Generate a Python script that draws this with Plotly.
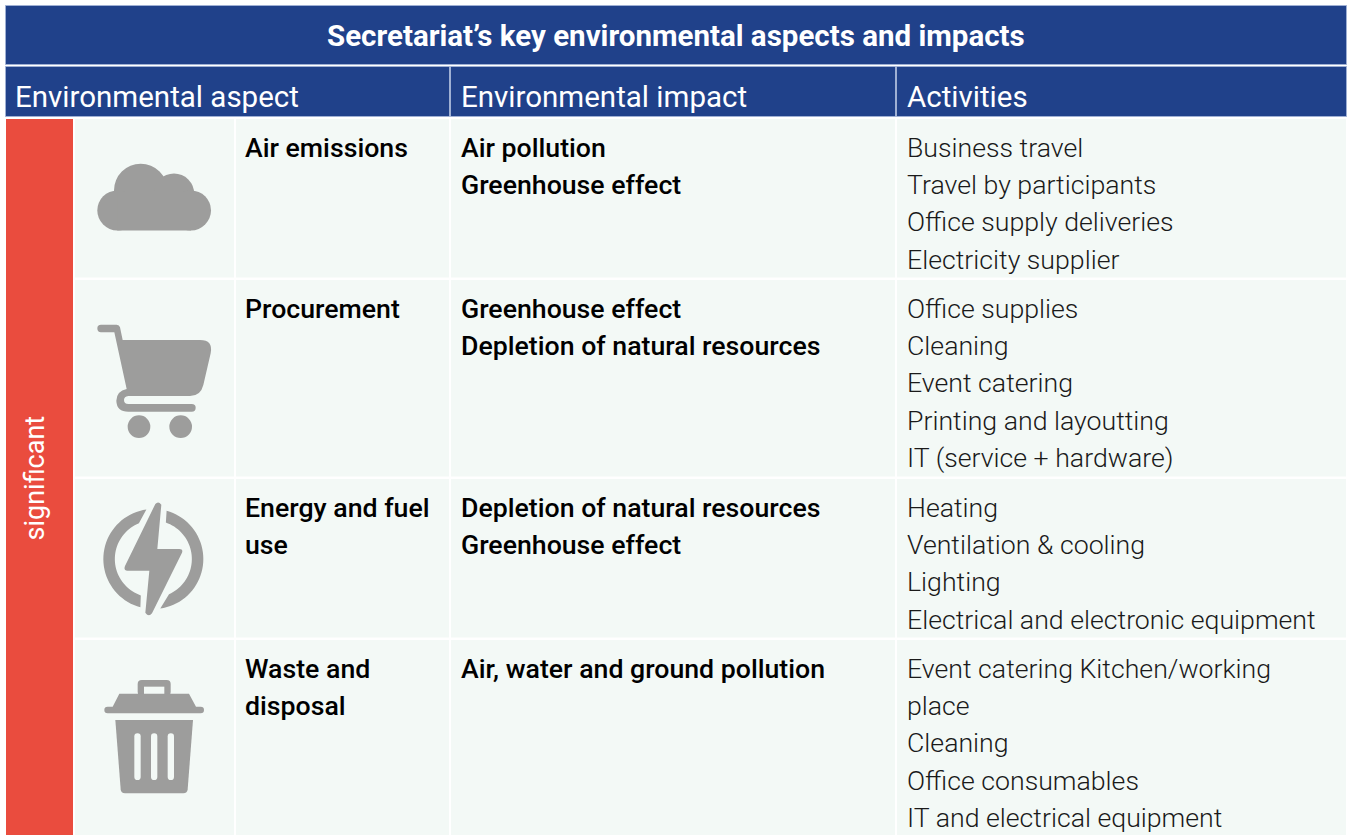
import math
import plotly.graph_objects as go

# ---------- content ----------
TITLE = "Secretariat’s key environmental aspects and impacts"
HEADERS = ["Environmental aspect", "Environmental impact", "Activities"]
SIDE_LABEL = "significant"
ASPECTS = [["Air emissions"], ["Procurement"], ["Energy and fuel", "use"], ["Waste and", "disposal"]]
IMPACTS = [
    ["Air pollution", "Greenhouse effect"],
    ["Greenhouse effect", "Depletion of natural resources"],
    ["Depletion of natural resources", "Greenhouse effect"],
    ["Air, water and ground pollution"],
]
ACTIVITIES = [
    ["Business travel", "Travel by participants", "Office supply deliveries", "Electricity supplier"],
    ["Office supplies", "Cleaning", "Event catering", "Printing and layoutting", "IT (service + hardware)"],
    ["Heating", "Ventilation & cooling", "Lighting", "Electrical and electronic equipment"],
    ["Event catering Kitchen/working", "place", "Cleaning", "Office consumables", "IT and electrical equipment"],
]

# ---------- layout ----------
W, H = 1348, 835
NAVY, RED, CELL, GREY, EDGE = "#20418A", "#EA4C3E", "#F3F9F6", "#9D9D9C", "#9FB0D4"
ROW_Y = [(119, 277.5), (280, 476.5), (479, 637.5), (640, 835)]
COL_X = [(75, 234), (236, 449), (451, 895), (897, 1346)]
TEXT_X = [242.5, 458.5, 904.5]
PITCH, FIRST = 37.25, 28.9
FONT = "Roboto"

shapes = []


def rect(x0, y0, x1, y1, fill, line=None):
    shapes.append(dict(type="rect", xref="x", yref="y", x0=x0, y0=y0, x1=x1, y1=y1, fillcolor=fill,
                       line=dict(color=line or fill, width=1 if line else 0), layer="below"))


def path(d, fill=GREY):
    shapes.append(dict(type="path", xref="x", yref="y", path=d, fillcolor=fill, line=dict(width=0), layer="below"))


def circle(cx, cy, r, fill=GREY):
    shapes.append(dict(type="circle", xref="x", yref="y", x0=cx - r, y0=cy - r, x1=cx + r, y1=cy + r,
                       fillcolor=fill, line=dict(width=0), layer="below"))


def zpath(cmds, ox, oy, fill=GREY):
    """Path given in 3x crop units, converted to page pixels."""
    out = []
    for c in cmds:
        nums = []
        for i in range(0, len(c[1:]), 2):
            nums += [f"{ox + c[1 + i] / 3:.2f}", f"{oy + c[2 + i] / 3:.2f}"]
        out.append(c[0] + " " + " ".join(nums))
    path(" ".join(out) + " Z", fill)


def arc_band(cx, cy, ro, ri, a0o, a1o, a0i, a1i):
    pts = []
    for k in range(41):
        a = math.radians(a0o + (a1o - a0o) * k / 40)
        pts.append((cx + ro * math.cos(a), cy + ro * math.sin(a)))
    for k in range(41):
        a = math.radians(a1i + (a0i - a1i) * k / 40)
        pts.append((cx + ri * math.cos(a), cy + ri * math.sin(a)))
    path("M " + " L ".join(f"{x:.2f} {y:.2f}" for x, y in pts) + " Z")


def rounded(x0, y0, x1, y1, r, fill):
    path(f"M {x0 + r} {y0} L {x1 - r} {y0} Q {x1} {y0} {x1} {y0 + r} L {x1} {y1 - r} Q {x1} {y1} {x1 - r} {y1} "
         f"L {x0 + r} {y1} Q {x0} {y1} {x0} {y1 - r} L {x0} {y0 + r} Q {x0} {y0} {x0 + r} {y0} Z", fill)


# bands and cells
rect(5.5, 5.5, 1346.5, 64.5, NAVY, EDGE)
rect(5.5, 66.5, 449.5, 116.5, NAVY, EDGE)
rect(450.5, 66.5, 895.5, 116.5, NAVY, EDGE)
rect(896.5, 66.5, 1346.5, 116.5, NAVY, EDGE)
rect(6, 119, 73, 835, RED)
for y0, y1 in ROW_Y:
    for x0, x1 in COL_X:
        rect(x0, y0, x1, y1, CELL)

# cloud icon
for cx, cy, r in [(140.7, 190.4, 26.7), (174, 193.7, 20.2), (117.3, 210.4, 20), (191, 210.4, 20)]:
    circle(cx, cy, r)
rect(117.3, 192, 191, 230.4, GREY)

# cart icon
zpath([("M", 303, 104), ("L", 350, 104), ("Q", 358, 104, 360, 112), ("L", 368, 150), ("L", 600, 150),
       ("Q", 640, 150, 632, 190), ("L", 610, 285), ("Q", 602, 318, 570, 318), ("L", 385, 318),
       ("Q", 372, 320, 372, 330), ("Q", 372, 342, 385, 342), ("L", 575, 342), ("Q", 587, 342, 587, 353),
       ("Q", 587, 365, 575, 365), ("L", 385, 365), ("Q", 350, 365, 349, 332), ("Q", 350, 303, 380, 297),
       ("L", 343, 127), ("L", 303, 127), ("Q", 292, 127, 292, 115), ("Q", 292, 104, 303, 104)], 0, 290)
circle(417 / 3, 290 + 410 / 3, 34 / 3)
circle(542 / 3, 290 + 410 / 3, 34 / 3)

# energy icon
cxb, cyb = 70 + 250 / 3, 480 + 237 / 3
arc_band(cxb, cyb, 50, 38.5, 262, 105, 248, 109)
arc_band(cxb, cyb, 50, 38.5, -74.6, 82, -71, 66)
zpath([("M", 256, 72), ("Q", 265, 62, 274, 74), ("L", 262, 207), ("L", 328, 207), ("Q", 340, 207, 336, 218),
       ("L", 246, 400), ("Q", 236, 412, 226, 398), ("L", 238, 272), ("L", 172, 272), ("Q", 160, 272, 165, 258)],
      70, 480)

# waste icon
rounded(70 + 203 / 3, 635 + 135 / 3, 70 + 302 / 3, 635 + 182 / 3, 4, GREY)
rect(70 + 222 / 3, 635 + 155 / 3, 70 + 283 / 3, 635 + 177 / 3, CELL)
zpath([("M", 148, 176), ("L", 357, 176), ("L", 378, 215), ("L", 392, 215), ("Q", 402, 215, 402, 225),
       ("Q", 402, 235, 392, 235), ("L", 113, 235), ("Q", 103, 235, 103, 225), ("Q", 103, 215, 113, 215),
       ("L", 128, 215)], 70, 635)
zpath([("M", 136, 255), ("L", 369, 255), ("L", 353, 463), ("Q", 352, 475, 340, 475), ("L", 165, 475),
       ("Q", 153, 475, 152, 463)], 70, 635)
for zx in (193, 243, 293):
    rounded(70 + zx / 3, 635 + 295 / 3, 70 + (zx + 19) / 3, 635 + 435 / 3, 3.1, CELL)

# text
ann = []


def text(x, y, s, size, color="#000000", weight=400, anchor="left", angle=0):
    ann.append(dict(x=x, y=y, xref="x", yref="y", text=s, showarrow=False, xanchor=anchor, yanchor="middle",
                    textangle=angle, font=dict(family=FONT, size=size, color=color, weight=weight)))


text(676, 36, TITLE, 29.5, "#FFFFFF", 700, "center")
for tx, h in zip([12.5, 458.5, 904.5], HEADERS):
    text(tx, 97, h, 29.5, "#FFFFFF", 400)
text(34.5, 478, SIDE_LABEL, 27, "#FFFFFF", 400, "center", -90)

for i, (y0, _) in enumerate(ROW_Y):
    for j, (col, weight) in enumerate(zip((ASPECTS, IMPACTS, ACTIVITIES), (500, 500, 300))):
        for k, line in enumerate(col[i]):
            text(TEXT_X[j], y0 + FIRST + k * PITCH, line, 26.7, "#000000" if weight == 500 else "#1A1A1A", weight)

fig = go.Figure()
fig.update_layout(
    width=W, height=H, margin=dict(l=0, r=0, t=0, b=0), paper_bgcolor="#FFFFFF", plot_bgcolor="#FFFFFF",
    xaxis=dict(range=[0, W], visible=False, fixedrange=True),
    yaxis=dict(range=[H, 0], visible=False, fixedrange=True),
    shapes=shapes, annotations=ann, showlegend=False,
)
fig.write_html("out.html", config=dict(displayModeBar=False),
               post_script="document.body.style.margin='0';document.body.style.overflow='hidden';")
